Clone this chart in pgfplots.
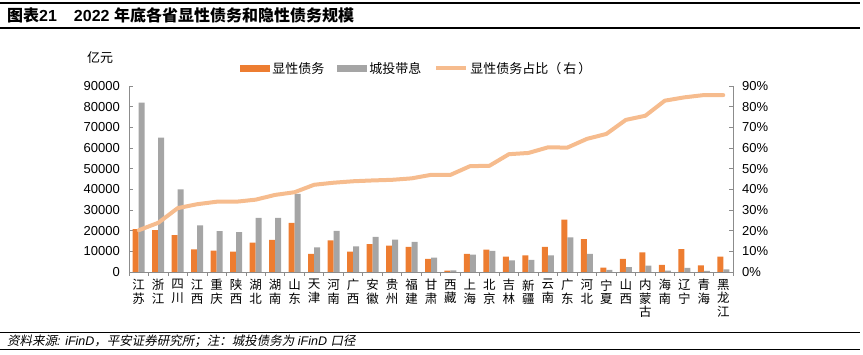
\documentclass[border=0pt]{standalone}
\usepackage{fontspec}
\setmainfont{Liberation Sans}
\newfontfamily\cjk{Noto Sans CJK SC}
\newfontfamily\cjkit{Noto Sans CJK SC}[FakeSlant=0.2]
\usepackage{pgfplots}
\pgfplotsset{compat=1.18}
\definecolor{cOr}{HTML}{ED7D31}
\definecolor{cGr}{HTML}{A5A5A5}
\definecolor{cLine}{HTML}{F6BC8E}
\definecolor{cAx}{HTML}{8C8C8C}
\begin{document}
\begin{tikzpicture}[x=1pt,y=1pt]
\path[use as bounding box] (0,0) rectangle (863,355);
% header / footer rules
\draw[line width=1.3pt] (0,352) -- (860,352);
\draw[line width=1.3pt] (0,327) -- (860,327);
\draw[line width=1pt] (0,22.7) -- (860,22.7);
\draw[line width=1pt] (0,5) -- (860,5);
\node[anchor=west, inner sep=0pt] at (7,339.5) {\fontsize{16}{18}\selectfont\bfseries{\cjk\bfseries 图表}21\hspace{17pt}2022 {\cjk\bfseries 年底各省显性债务和隐性债务规模}};
\node[anchor=west, inner sep=0pt] at (7,13.5) {\fontsize{12.5}{14}\selectfont{\cjkit 资料来源}\textit{: iFinD}{\cjkit ，平安证券研究所；注：城投债务为} \textit{iFinD} {\cjkit 口径}};
\node[anchor=west, inner sep=0pt] at (87,297) {\cjk\fontsize{13}{15}\selectfont 亿元};

\begin{axis}[
  at={(129pt,83pt)}, anchor=south west,
  scale only axis, width=604pt, height=186pt,
  xmin=-0.5, xmax=30.5, ymin=0, ymax=90000,
  axis x line*=bottom, axis y line*=left,
  axis line style={draw=cAx, line width=0.8pt},
  ytick={0,10000,...,90000},
  scaled y ticks=false,
  /pgf/number format/fixed, /pgf/number format/1000 sep={},
  /pgf/number format/assume math mode=true,
  yticklabel style={font=\fontsize{13}{15}\selectfont, inner sep=0pt, xshift=-9pt},
  ytick style={draw=cAx, line width=0.8pt},
  y tick style={/pgfplots/major tick length=4pt},
  ytick align=inside,
  xtick={0,...,30},
  major x tick style={draw=none},
  minor xtick={-0.5,0.5,...,30.5},
  minor x tick style={draw=cAx, line width=0.8pt},
  minor tick length=4pt,
  xtick align=outside,
  xticklabels={{江\\苏},{浙\\江},{四\\川},{江\\西},{重\\庆},{陕\\西},{湖\\北},{湖\\南},{山\\东},{天\\津},{河\\南},{广\\西},{安\\徽},{贵\\州},{福\\建},{甘\\肃},{西\\藏},{上\\海},{北\\京},{吉\\林},{新\\疆},{云\\南},{广\\东},{河\\北},{宁\\夏},{山\\西},{内\\蒙\\古},{海\\南},{辽\\宁},{青\\海},{黑\\龙\\江}},
  xticklabel style={align=center, font=\cjk\fontsize{12.5}{13.3}\selectfont, anchor=north, inner sep=0pt, yshift=-3pt},
  ybar=0pt, bar width=6pt,
  legend style={draw=none, fill=none, at={(0.184,1.095)}, anchor=west, legend columns=-1,
    font=\cjk\fontsize{13}{15}\selectfont, inner sep=0pt,
    /tikz/every even column/.append style={column sep=11pt}},
  legend cell align=left,
]
\addplot[fill=cOr, draw=none, legend image code/.code={\fill[cOr] (0pt,-3.3pt) rectangle (30pt,3.3pt);}] coordinates {
(0,20800) (1,20300) (2,17900) (3,10900) (4,10300) (5,9800) (6,14200) (7,15600) (8,23800) (9,8800)
(10,15300) (11,9800) (12,13500) (13,12700) (14,12100) (15,6300) (16,650) (17,8800) (18,10800) (19,7400)
(20,8000) (21,12200) (22,25300) (23,15900) (24,2100) (25,6400) (26,9500) (27,3500) (28,11100) (29,3200) (30,7400)};
\addlegendentry{显性债务}
\addplot[fill=cGr, draw=none, legend image code/.code={\fill[cGr] (0pt,-3.3pt) rectangle (30pt,3.3pt);}] coordinates {
(0,82000) (1,65000) (2,40000) (3,22500) (4,19800) (5,19300) (6,26200) (7,26200) (8,37800) (9,11900)
(10,19900) (11,12400) (12,17000) (13,15700) (14,14600) (15,6900) (16,730) (17,8400) (18,10200) (19,5600)
(20,5900) (21,8000) (22,16700) (23,8800) (24,1050) (25,2300) (26,3050) (27,720) (28,2040) (29,540) (30,1250)};
\addlegendentry{城投带息}
\addlegendimage{legend image code/.code={\draw[cLine, line width=4pt] (0pt,0pt) -- (30pt,0pt);}}
\addlegendentry{显性债务占比（\hspace{2pt}右\hspace{2pt}）}
\end{axis}

\begin{axis}[
  at={(129pt,83pt)}, anchor=south west,
  scale only axis, width=604pt, height=186pt,
  xmin=-0.5, xmax=30.5, ymin=0, ymax=90,
  axis x line=none, axis y line*=right,
  axis line style={draw=cAx, line width=0.8pt},
  ytick={0,10,...,90},
  yticklabel={\pgfmathprintnumber{\tick}\%},
  /pgf/number format/assume math mode=true,
  yticklabel style={font=\fontsize{13}{15}\selectfont, inner sep=0pt, xshift=9pt},
  ytick style={draw=cAx, line width=0.8pt},
  major tick length=4pt,
  ytick align=inside,
]
\addplot[cLine, line width=4pt, line join=round, line cap=round, mark=none] coordinates {
(0,20.2) (1,23.8) (2,30.9) (3,32.8) (4,34.0) (5,34.0) (6,35.0) (7,37.3) (8,38.6) (9,42.2)
(10,43.2) (11,43.9) (12,44.3) (13,44.6) (14,45.3) (15,47.0) (16,47.0) (17,51.2) (18,51.4) (19,57.0)
(20,57.6) (21,60.3) (22,60.2) (23,64.4) (24,66.8) (25,73.6) (26,75.6) (27,82.9) (28,84.5) (29,85.6) (30,85.6)};
\end{axis}
\end{tikzpicture}
\end{document}
